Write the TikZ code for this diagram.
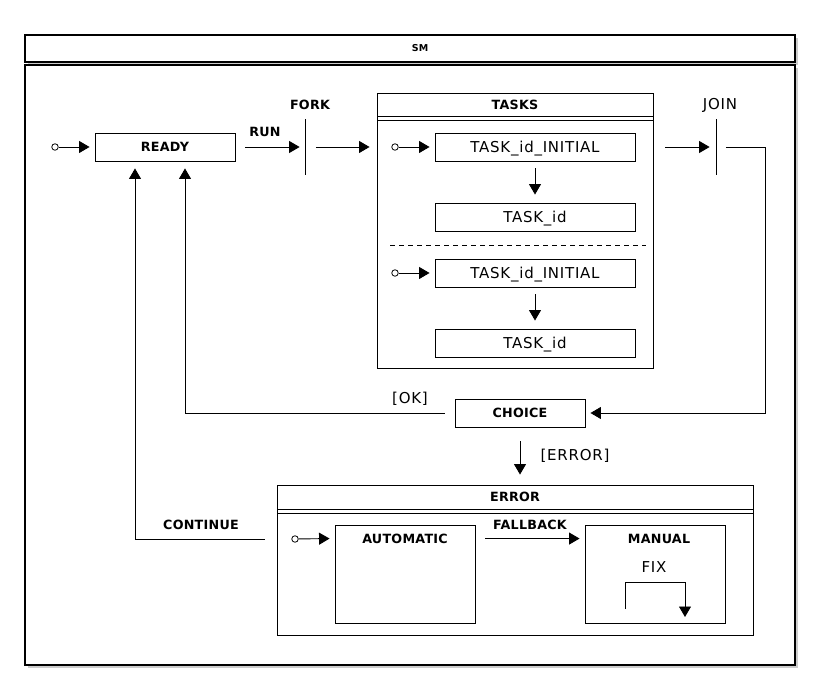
\documentclass[tikz,border=0pt]{standalone}
\usepackage{fontspec}
\setmainfont{DejaVu Sans}
\newfontfamily\rgfam[LetterSpace=5]{DejaVu Sans}
\newfontfamily\bffam[LetterSpace=2]{DejaVu Sans}
\usetikzlibrary{arrows.meta,shadows}
\newcommand\bfsz{\fontsize{12.7}{14}\bffam\bfseries}
\newcommand\rgsz{\fontsize{15}{17}\rgfam}
\newcommand\smsz{\fontsize{9.5}{11}\bffam\bfseries}
\tikzset{
  >={Triangle[length=10.5pt,width=12pt]},
  every path/.style={line width=0.9pt},
  box/.style={draw,line width=0.9pt,inner sep=0pt,rectangle},
  btext/.style={font=\bfsz,text height=9.3pt,text depth=0pt},
  rtext/.style={font=\rgsz,text height=10.9pt,text depth=0pt},
  stbox/.style={box,minimum width=140pt,minimum height=28pt,btext},
  taskbox/.style={box,minimum width=200pt,minimum height=28pt,rtext},
  frame/.style={draw,line width=1.4pt,fill=white,inner sep=0pt,rectangle,
     drop shadow={shadow xshift=3pt,shadow yshift=-3pt,opacity=0.4,fill=gray}},
  initst/.style={circle,draw,line width=0.8pt,fill=white,minimum size=6.5pt,inner sep=0pt},
  bar/.style={rectangle,fill=black,minimum width=0.9pt,minimum height=56pt,inner sep=0pt},
  blab/.style={btext,inner sep=0pt},
  rlab/.style={rtext,inner sep=0pt},
}
\begin{document}
\begin{tikzpicture}[x=1pt,y=-1pt]
\fill[white] (0,0) rectangle (820,700);
\useasboundingbox (0,0) rectangle (820,700);
% frames
\node[frame,minimum width=770pt,minimum height=27pt] (smtitle) at (410,48.5) {};
\node[font=\smsz,text height=6.9pt,text depth=0pt,inner sep=0pt] (smlab) at (420,48.5) {SM};
\node[frame,minimum width=770pt,minimum height=600pt] (outer) at (410,365) {};
% ready
\node[initst] (i0) at (55,147) {};
\node[stbox] (ready) at (165,147) {READY};
\node[bar] (fork) at (305,147) {};
\node[blab] (runlab) at (265,132) {RUN};
\node[blab] (forklab) at (310,105) {FORK};
% tasks
\node[box,minimum width=276pt,minimum height=275pt] (tasks) at (515,230.5) {};
\node[blab] (taskslab) at (515,105) {TASKS};
\coordinate (th1) at (377,116);
\coordinate (th2) at (377,120);
\draw (th1) -- (th1 -| tasks.east);
\draw (th2) -- (th2 -| tasks.east);
\node[initst] (i1) at (395,147) {};
\node[taskbox] (ti1) at (535,147) {TASK\_id\_INITIAL};
\node[taskbox] (t1) at (535,217) {TASK\_id};
\coordinate (dl) at (390,245);
\coordinate (dr) at (646,245);
\draw[dash pattern=on 5pt off 4pt] (dl) -- (dr);
\node[initst] (i2) at (395,273) {};
\node[taskbox] (ti2) at (535,273) {TASK\_id\_INITIAL};
\node[taskbox] (t2) at (535,343) {TASK\_id};
% join
\node[bar] (join) at (716,147) {};
\node[rlab] (joinlab) at (720,104) {JOIN};
% choice
\node[box,minimum width=130pt,minimum height=28pt,btext] (choice) at (520,413) {CHOICE};
\node[rlab] (oklab) at (410,398) {[OK]};
\node[rlab] (errlab) at (575,455) {[ERROR]};
% error
\node[box,minimum width=476pt,minimum height=150pt] (errbox) at (515,560) {};
\node[blab] (errtitle) at (515,497) {ERROR};
\coordinate (eh1) at (277,509);
\coordinate (eh2) at (277,513);
\draw (eh1) -- (eh1 -| errbox.east);
\draw (eh2) -- (eh2 -| errbox.east);
\node[initst] (i3) at (295,539) {};
\node[box,minimum width=140pt,minimum height=98pt] (auto) at (405,574) {};
\node[blab] (autolab) at (405,539) {AUTOMATIC};
\node[box,minimum width=140pt,minimum height=98pt] (manual) at (655,574) {};
\node[blab] (manlab) at (659,539) {MANUAL};
\node[blab] (fblab) at (530,525) {FALLBACK};
\node[rlab] (fixlab) at (654,567) {FIX};
\node[blab] (contlab) at (201,525) {CONTINUE};
% connectors
\draw[->] (i0) -- ([xshift=-5pt]ready.west);
\draw[->] ([xshift=10pt]ready.east) -- ([xshift=-4.5pt]fork.west);
\draw[->] ([xshift=10pt]fork.east) -- ([xshift=-7pt]tasks.west |- fork.east);
\draw[->] (i1) -- ([xshift=-5pt]ti1.west);
\draw[->] ([yshift=-7pt]ti1.south) -- ([yshift=8pt]t1.north);
\draw[->] (i2) -- ([xshift=-5pt]ti2.west);
\draw[->] ([yshift=-7pt]ti2.south) -- ([yshift=8pt]t2.north);
\draw[->] ([xshift=12pt]tasks.east |- join.west) -- ([xshift=-5.5pt]join.west);
\coordinate (jc) at (765,147);
\draw[->] ([xshift=9pt]join.east) -- (jc) |- ([xshift=5pt]choice.east);
\draw[->] ([xshift=-10pt]choice.west) -| ([xshift=20pt,yshift=-7pt]ready.south);
\draw[->] ([yshift=-14pt]choice.south) -- ([yshift=10pt]errbox.north -| choice.south);
\draw[->] (i3) -- ([xshift=-5pt,yshift=-14pt]auto.north west);
\draw[->] ([xshift=10pt,yshift=-14pt]auto.north east) -- ([xshift=-5pt,yshift=-14pt]manual.north west);
\draw[->] ([xshift=-12pt,yshift=21pt]errbox.west) -| ([xshift=-30pt,yshift=-7pt]ready.south);
\draw[->] ([xshift=-30pt,yshift=-35pt]manual.center) -- ++(0,-27) -- ++(60,0) -- ++(0,35);
\end{tikzpicture}
\end{document}
